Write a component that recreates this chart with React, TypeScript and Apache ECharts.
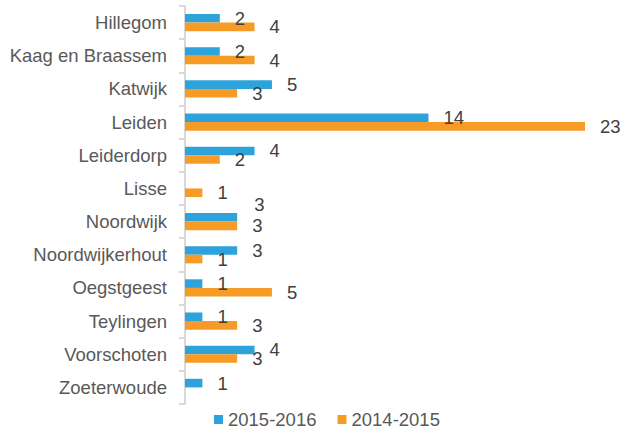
import React, { useEffect, useRef } from "react";
import * as echarts from "echarts";

const categories = [
  "Hillegom",
  "Kaag en Braassem",
  "Katwijk",
  "Leiden",
  "Leiderdorp",
  "Lisse",
  "Noordwijk",
  "Noordwijkerhout",
  "Oegstgeest",
  "Teylingen",
  "Voorschoten",
  "Zoeterwoude",
];
const series2015_2016 = [2, 2, 5, 14, 4, 0, 3, 3, 1, 1, 4, 1];
const series2014_2015 = [4, 4, 3, 23, 2, 1, 3, 1, 5, 3, 3, 0];
const seriesNames = ["2015-2016", "2014-2015"];

const BLUE = "#2EA3DB";
const ORANGE = "#F79B27";
const FONT = "'Liberation Sans', Arial, sans-serif";

export default function App() {
  const ref = useRef<HTMLDivElement>(null);
  useEffect(() => {
    if (!ref.current) return;
    const chart = echarts.init(ref.current, null, { renderer: "svg" });
    const labelBase = {
      show: true,
      position: "right",
      distance: 15,
      color: "#404040",
      fontSize: 18.5,
      fontFamily: FONT,
      formatter: (p: any) => (p.value === 0 ? "" : String(p.value)),
    };
    const blueData = series2015_2016.map((v, i) =>
      categories[i] === "Noordwijk"
        ? { value: v, label: { offset: [2, -13] } }
        : v
    );
    chart.setOption({
      animation: false,
      grid: { left: 185, top: 6, width: 400, height: 398, containLabel: false },
      legend: {
        left: 214,
        top: 410,
        padding: 0,
        itemWidth: 9,
        itemHeight: 9,
        itemGap: 21,
        icon: "rect",
        textStyle: { fontSize: 18.5, fontFamily: FONT, color: "#595959", lineHeight: 18 },
        data: seriesNames,
      },
      xAxis: {
        type: "value",
        min: 0,
        max: 23,
        show: false,
      },
      yAxis: {
        type: "category",
        data: categories,
        inverse: true,
        axisLine: { show: true, lineStyle: { color: "#D9D9D9", width: 2 } },
        axisTick: { show: true, length: 6, lineStyle: { color: "#D9D9D9", width: 2 } },
        axisLabel: { fontSize: 18.5, fontFamily: FONT, color: "#595959", margin: 18 },
        splitLine: { show: false },
      },
      series: [
        {
          name: seriesNames[0],
          type: "bar",
          data: blueData,
          itemStyle: { color: BLUE },
          barGap: "0%",
          barCategoryGap: "48%",
          label: labelBase,
        },
        {
          name: seriesNames[1],
          type: "bar",
          data: series2014_2015,
          itemStyle: { color: ORANGE },
          barGap: "0%",
          barCategoryGap: "48%",
          label: labelBase,
        },
      ],
    });
    return () => chart.dispose();
  }, []);
  return (
    <div
      ref={ref}
      style={{ position: "fixed", left: 0, top: 0, width: 622, height: 430, background: "#fff" }}
    />
  );
}
